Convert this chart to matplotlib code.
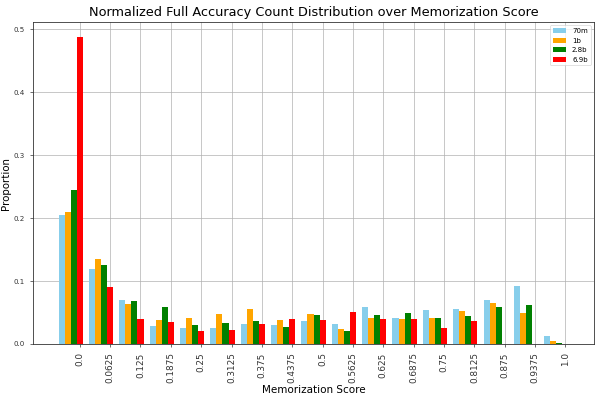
import matplotlib
matplotlib.use("Agg")
import matplotlib.pyplot as plt
import numpy as np

scores = ["0.0", "0.0625", "0.125", "0.1875", "0.25", "0.3125", "0.375", "0.4375",
          "0.5", "0.5625", "0.625", "0.6875", "0.75", "0.8125", "0.875", "0.9375", "1.0"]

m70 = [0.205, 0.119, 0.070, 0.028, 0.026, 0.025, 0.032, 0.030, 0.037, 0.031,
       0.059, 0.041, 0.054, 0.056, 0.070, 0.092, 0.013]
b1 = [0.209, 0.135, 0.063, 0.038, 0.042, 0.047, 0.056, 0.038, 0.047, 0.024,
      0.042, 0.040, 0.042, 0.053, 0.065, 0.049, 0.004]
b28 = [0.244, 0.125, 0.069, 0.058, 0.030, 0.034, 0.037, 0.027, 0.046, 0.020,
       0.046, 0.050, 0.041, 0.044, 0.058, 0.062, 0.0016]
b69 = [0.487, 0.091, 0.040, 0.035, 0.020, 0.022, 0.031, 0.040, 0.038, 0.051,
       0.040, 0.039, 0.026, 0.036, 0.0, 0.0, 0.0]

series = [("70m", m70, "skyblue"), ("1b", b1, "orange"),
          ("2.8b", b28, "green"), ("6.9b", b69, "red")]

fig = plt.figure(figsize=(5.95, 3.98), dpi=100)
ax = fig.add_axes([33/595, 1 - 344/398, 561/595, (344 - 22)/398])

x = np.arange(len(scores))
w = 0.2
for k, (name, vals, col) in enumerate(series):
    ax.bar(x + (k - 3) * w, vals, width=w, color=col, label=name)

ax.set_xticks(x)
ax.set_xticklabels(scores, rotation=90, fontsize=6.4)
ax.tick_params(axis='y', labelsize=5.1)
ax.tick_params(length=2.5, width=0.5, colors='#333333')
for sp in ax.spines.values():
    sp.set_linewidth(0.6)
    sp.set_color('#333333')
ax.set_axisbelow(True)
ax.grid(True, color='#b0b0b0', linewidth=0.5)
ax.set_title("Normalized Full Accuracy Count Distribution over Memorization Score",
             fontsize=9.3, pad=4)
ax.set_xlabel("Memorization Score", fontsize=7.5, labelpad=1)
ax.set_ylabel("Proportion", fontsize=7.4, labelpad=2)
leg = ax.legend(fontsize=5, loc="upper right")
leg.get_frame().set_linewidth(0.5)

fig.savefig("out.png", dpi=100)
